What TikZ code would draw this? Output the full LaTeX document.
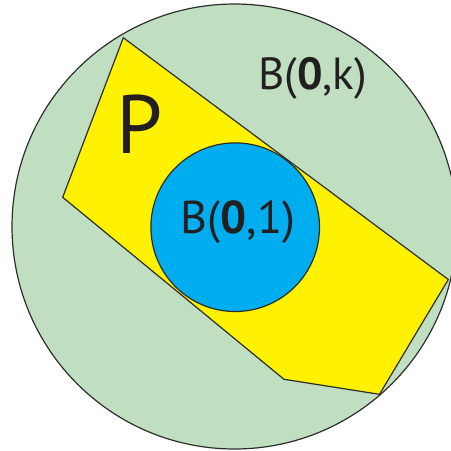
\documentclass[tikz,border=0pt]{standalone}
\usepackage{fontspec}
\usepackage{tikz}
\usepackage{xcolor}
\newfontfamily\labelfont{PT Sans}
\definecolor{ballgreen}{RGB}{192,223,192}
\definecolor{polyyellow}{RGB}{255,242,0}
\definecolor{ballblue}{RGB}{0,174,239}
\definecolor{edgegray}{RGB}{45,45,45}
\definecolor{inkblack}{RGB}{35,31,32}

\begin{document}
\begin{tikzpicture}[
            x=0.5pt, y=-0.5pt,
            edge/.style={
                draw=edgegray,
                line width=0.6pt
            },
            ballnode/.style={
                edge,
                circle,
                inner sep=0pt
            },
            tag/.style={
                text=inkblack,
                inner sep=0pt,
                font=\labelfont
            }
        ]

        \useasboundingbox (0,0) rectangle (451,451);

        \node[ballnode, fill=ballgreen, minimum size=222.5pt] (bigball) at (234.5,226.5) {};

        \coordinate (p1) at (123.3,37.7);
        \coordinate (p2) at (448.3,279.5);
        \coordinate (p3) at (379.5,394.3);
        \coordinate (p4) at (284,379.3);
        \coordinate (p5) at (62.7,197.3);
        \draw[edge, fill=polyyellow, line join=miter] (p1) -- (p2) -- (p3) -- (p4) -- (p5) -- cycle;

        \node[ballnode, fill=ballblue, minimum size=84.3pt] (unitball) at (235.2,227.2) {};

        \node[tag, font=\labelfont\fontsize{41.4}{45}\selectfont] (polyname) at (140,124) {P};
        \node[tag, font=\labelfont\fontsize{22.5}{25}\selectfont] (bignote) at (312.5,78) {B(\textbf{0},k)};
        \node[tag, font=\labelfont\fontsize{23}{26}\selectfont] (unitnote) at (238,222.5) {B(\textbf{0},1)};

        \end{tikzpicture}
\end{document}
